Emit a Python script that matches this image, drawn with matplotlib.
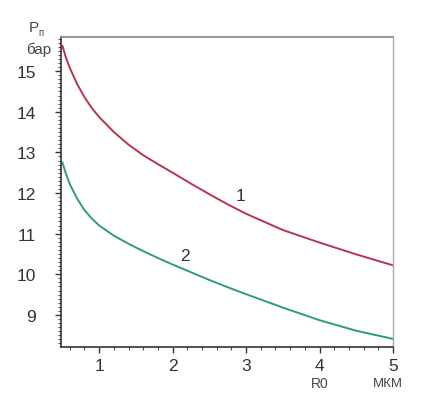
import matplotlib
matplotlib.use("Agg")
import matplotlib.pyplot as plt
from matplotlib.ticker import MultipleLocator

plt.rcParams['font.family'] = ['Liberation Sans', 'DejaVu Sans']

# Data
r0 = [0.5, 0.55, 0.6, 0.7, 0.8, 0.9, 1.0, 1.2, 1.4, 1.6, 1.8, 2.0,
      2.25, 2.5, 2.75, 3.0, 3.5, 4.0, 4.5, 5.0]
p_curve1 = [15.62, 15.32, 15.08, 14.68, 14.36, 14.09, 13.87, 13.50, 13.19, 12.93, 12.71, 12.50,
            12.23, 11.97, 11.72, 11.49, 11.09, 10.78, 10.49, 10.22]
p_curve2 = [12.75, 12.46, 12.22, 11.86, 11.58, 11.37, 11.20, 10.95, 10.75, 10.57, 10.40, 10.24,
            10.05, 9.86, 9.68, 9.51, 9.18, 8.87, 8.61, 8.41]
x_ticks = [1, 2, 3, 4, 5]
y_ticks = [9, 10, 11, 12, 13, 14, 15]
curve_labels = ["1", "2"]

fig = plt.figure(figsize=(4.25, 4.14), dpi=100)
ax = fig.add_axes([0.1435, 0.1594, 0.7812, 0.7488])

ax.plot(r0, p_curve1, color="#b8344e", lw=1.4)
ax.plot(r0, p_curve2, color="#2e9c7c", lw=1.4)

ax.set_xlim(0.48, 5.0)
ax.set_ylim(8.21, 15.84)

ax.set_xticks(x_ticks)
ax.set_yticks(y_ticks)
ax.xaxis.set_minor_locator(MultipleLocator(0.2))
ax.yaxis.set_minor_locator(MultipleLocator(0.1))
ax.tick_params(axis='both', which='major', direction='out', length=4, width=1,
               color="#333333", labelsize=12.5, labelcolor="#333333")
ax.tick_params(axis='both', which='minor', direction='out', length=2.5, width=0.8,
               color="#555555")
ax.tick_params(axis='x', which='major', pad=4)
ax.tick_params(axis='y', which='major', pad=14)

for s in ['left', 'bottom']:
    ax.spines[s].set_color("#333333")
    ax.spines[s].set_linewidth(1.2)
ax.spines['top'].set_color("#888888")
ax.spines['top'].set_linewidth(1.2)
ax.spines['right'].set_color("#aaaaaa")
ax.spines['right'].set_linewidth(1.0)

ax.text(2.92, 11.95, curve_labels[0], fontsize=12.5, color="#333333", ha='center', va='center')
ax.text(2.17, 10.46, curve_labels[1], fontsize=12.5, color="#333333", ha='center', va='center')

# axis titles
fig.text(29 / 425, 1 - 28 / 414, "P", fontsize=11, color="#444444", ha='left', va='center')
fig.text(38 / 425, 1 - 33 / 414, "п", fontsize=7, color="#444444", ha='left', va='center')
fig.text(39 / 425, 1 - 50 / 414, "бар", fontsize=11, color="#444444", ha='center', va='center')
fig.text(320 / 425, 1 - 384 / 414, "R0", fontsize=10, color="#444444", ha='center', va='center')
fig.text(388 / 425, 1 - 384 / 414, "МКМ", fontsize=9.5, color="#444444", ha='center', va='center')

fig.savefig("out.png", dpi=100)
